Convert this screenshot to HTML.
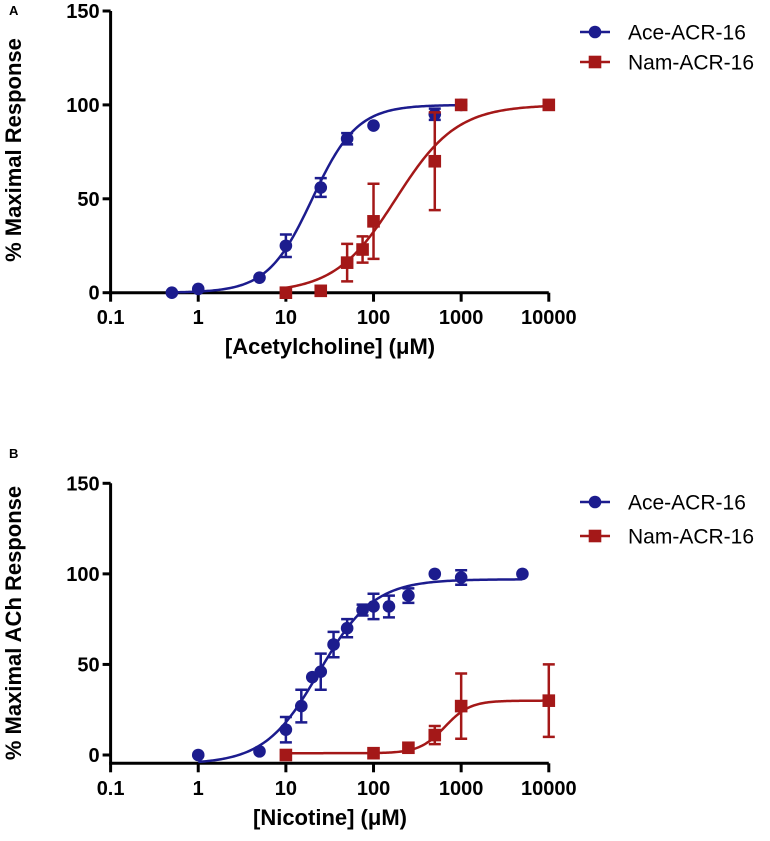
<!DOCTYPE html>
<html><head><meta charset="utf-8"><style>
body{margin:0;background:#fff;}
svg text{font-family:"Liberation Sans",Arial,sans-serif;}
</style></head><body>
<svg id="chart" width="770" height="836" xmlns="http://www.w3.org/2000/svg"></svg>
<script>
// Panel A data
const aAceX=[0.5,1,5,10,25,50,100,500,1000];
const aAceY=[0,2,8,25,56,82,89,95,100];
const aAceE=[0,0,0,6,5,3,0,3,0];
const aNamX=[10,25,50,75,100,500,1000,10000];
const aNamY=[0,1,16,23,38,70,100,100];
const aNamE=[0,0,10,7,20,26,0,0];
// Panel B data
const bAceX=[1,5,10,15,20,25,35,50,75,100,150,250,500,1000,5000];
const bAceY=[0,2,14,27,43,46,61,70,80,82,82,88,100,98,100];
const bAceE=[0,0,7,9,0,10,7,5,3,7,6,4,0,4,0];
const bNamX=[10,100,250,500,1000,10000];
const bNamY=[0,1,4,11,27,30];
const bNamE=[0,0,0,5,18,20];
// fitted curve params [bottom, top, logEC50, hill]
const aAceFit=[0,100,Math.log10(20),1.7];
const aNamFit=[0,100,Math.log10(180),1.25];
const bAceFit=[-5,97,Math.log10(24),1.4];
const bNamFit=[1,30,Math.log10(650),3];
const xTicks=[0.1,1,10,100,1000,10000];
const xTickLabels=["0.1","1","10","100","1000","10000"];
const yTicks=[0,50,100,150];

const NS="http://www.w3.org/2000/svg";
const svg=document.getElementById('chart');
const BLUE="#1c1c8e", RED="#a41818";
function mk(tag,attrs,parent){const e=document.createElementNS(NS,tag);for(const k in attrs)e.setAttribute(k,attrs[k]);(parent||svg).appendChild(e);return e;}

function panel(cfg){
  const g=mk('g',{});
  
  
  const x0=110.6, dec=87.64;
  const xs=v=>x0+(Math.log10(v)+1)*dec;
  const ys=v=>cfg.y0-v*cfg.py;
  const xAxisY=cfg.axisY;
  const ya=mk('line',{x1:x0,y1:ys(150),x2:x0,y2:xAxisY,stroke:'#000','stroke-width':3},g);
  
  
  const xa=mk('line',{x1:x0-1.5,y1:xAxisY,x2:xs(10000),y2:xAxisY,stroke:'#000','stroke-width':3},g);
  
  
  yTicks.forEach(t=>{
    mk('line',{x1:x0-8,y1:ys(t),x2:x0,y2:ys(t),stroke:'#000','stroke-width':3},g);
    const tx=mk('text',{x:x0-11,y:ys(t)+7,'text-anchor':'end','font-size':20,'font-weight':'bold'},g);
    tx.textContent=t;
    
    
  });
  xTicks.forEach((t,i)=>{
    mk('line',{x1:xs(t),y1:xAxisY,x2:xs(t),y2:xAxisY+9,stroke:'#000','stroke-width':3},g);
    const tx=mk('text',{x:xs(t),y:cfg.tickLabY,'text-anchor':'middle','font-size':20,'font-weight':'bold'},g);
    tx.textContent=xTickLabels[i];
    
    
  });
  const xt=mk('text',{x:330,y:cfg.xTitleY,'text-anchor':'middle','font-size':22,'font-weight':'bold'},g);
  xt.textContent=cfg.xTitle;
  
  
  const ytt=mk('text',{x:0,y:0,'text-anchor':'middle','font-size':22,'font-weight':'bold',transform:`translate(21,${cfg.yTitleC}) rotate(-90)`},g);
  ytt.textContent=cfg.yTitle;
  
  
  const pl=mk('text',{x:cfg.letterX,y:cfg.letterY,'font-size':13,'font-weight':'bold'},g);
  pl.textContent=cfg.letter;
  
  
  cfg.series.forEach(s=>{
    const f=s.fit;
    const fn=x=>f[0]+(f[1]-f[0])/(1+Math.pow(10,(f[2]-Math.log10(x))*f[3]));
    let d='';const lo=Math.log10(s.x[0]),hi=Math.log10(s.x[s.x.length-1]);
    for(let i=0;i<=200;i++){const lx=lo+(hi-lo)*i/200;const v=fn(Math.pow(10,lx));d+=(i?'L':'M')+xs(Math.pow(10,lx)).toFixed(2)+','+ys(v).toFixed(2);}
    const c=mk('path',{d:d,fill:'none',stroke:s.color,'stroke-width':2.5},g);
    
    
    s.x.forEach((xv,i)=>{
      const cx=xs(xv),cy=ys(s.y[i]),e=s.e[i];
      if(e>0){
        const eb=mk('path',{d:`M${cx},${ys(s.y[i]+e)}V${ys(s.y[i]-e)}M${cx-6},${ys(s.y[i]+e)}H${cx+6}M${cx-6},${ys(s.y[i]-e)}H${cx+6}`,stroke:s.color,'stroke-width':2.5,fill:'none'},g);
        
        
      }
      let m;
      if(s.shape==='circle')m=mk('circle',{cx:cx,cy:cy,r:6.3,fill:s.color},g);
      else m=mk('rect',{x:cx-6.3,y:cy-6.3,width:12.6,height:12.6,fill:s.color},g);
      
      
    });
  });
  cfg.series.forEach((s,i)=>{
    const ly=cfg.legY[i];
    const lg=mk('g',{},g);
    
    
    mk('line',{x1:580,y1:ly,x2:610,y2:ly,stroke:s.color,'stroke-width':2.5},lg);
    if(s.shape==='circle')mk('circle',{cx:595,cy:ly,r:6.3,fill:s.color},lg);
    else mk('rect',{x:588.7,y:ly-6.3,width:12.6,height:12.6,fill:s.color},lg);
    const t=mk('text',{x:628,y:ly+7.5,'font-size':21},lg);
    t.textContent=s.label;
  });
}

panel({name:'panel-a',letter:'A',letterX:9,letterY:15,y0:292.7,py:(292.7-11)/150,axisY:292.7,tickLabY:324,xTitleY:354,
  xTitle:'[Acetylcholine] (\u03bcM)',yTitle:'% Maximal Response',yTitleC:150,legY:[32,62],
  series:[{key:'ace',label:'Ace-ACR-16',color:BLUE,shape:'circle',x:aAceX,y:aAceY,e:aAceE,fit:aAceFit},
          {key:'nam',label:'Nam-ACR-16',color:RED,shape:'square',x:aNamX,y:aNamY,e:aNamE,fit:aNamFit}]});
panel({name:'panel-b',letter:'B',letterX:9,letterY:458,y0:755,py:(755-483.3)/150,axisY:763.3,tickLabY:795,xTitleY:825,
  xTitle:'[Nicotine] (\u03bcM)',yTitle:'% Maximal  ACh Response',yTitleC:623,legY:[502,536],
  series:[{key:'ace',label:'Ace-ACR-16',color:BLUE,shape:'circle',x:bAceX,y:bAceY,e:bAceE,fit:bAceFit},
          {key:'nam',label:'Nam-ACR-16',color:RED,shape:'square',x:bNamX,y:bNamY,e:bNamE,fit:bNamFit}]});
</script>
</body></html>
